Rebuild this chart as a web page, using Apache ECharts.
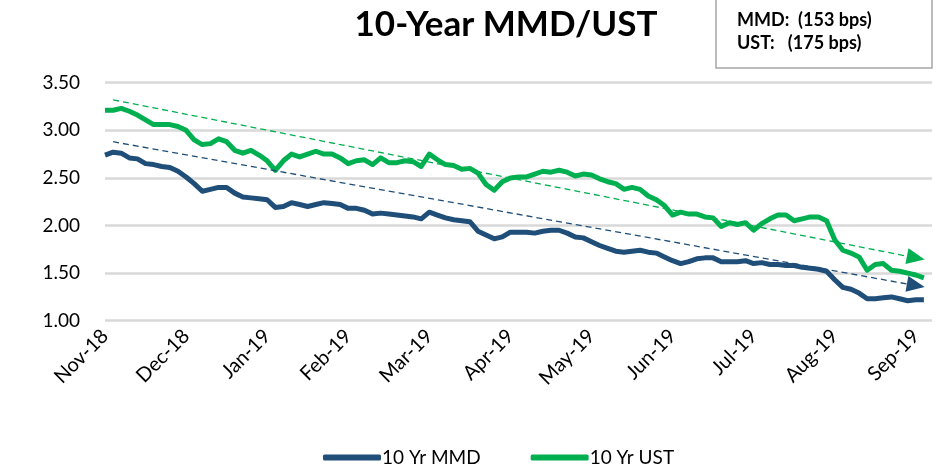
<!DOCTYPE html>
<html>
<head>
<meta charset="utf-8">
<script src="https://cdn.jsdelivr.net/npm/echarts@6/dist/echarts.min.js"></script>
<style>html,body{margin:0;padding:0;background:#fff}#c{width:940px;height:472px}</style>
</head>
<body>
<div id="c"></div>
<script>
// Tick labels on the x axis (one every 10 points)
var monthLabels = ['Nov-18','Dec-18','Jan-19','Feb-19','Mar-19','Apr-19','May-19','Jun-19','Jul-19','Aug-19','Sep-19'];
// y axis ticks
var yTicks = [1.00, 1.50, 2.00, 2.50, 3.00, 3.50];

// 10 Yr MMD (%)
var mmd = [2.74,2.77,2.76,2.71,2.70,2.65,2.64,2.62,2.61,2.57,
  2.51,2.44,2.36,2.38,2.40,2.40,2.34,2.30,2.29,2.28,
  2.27,2.19,2.20,2.24,2.22,2.20,2.22,2.24,2.23,2.22,
  2.18,2.18,2.16,2.12,2.13,2.12,2.11,2.10,2.09,2.07,
  2.14,2.11,2.08,2.06,2.05,2.04,1.94,1.90,1.86,1.88,
  1.93,1.93,1.93,1.92,1.94,1.95,1.95,1.92,1.88,1.87,
  1.83,1.79,1.76,1.73,1.72,1.73,1.74,1.72,1.71,1.67,
  1.63,1.60,1.62,1.65,1.66,1.66,1.62,1.62,1.62,1.63,
  1.60,1.61,1.59,1.59,1.58,1.58,1.56,1.55,1.54,1.52,
  1.43,1.35,1.33,1.29,1.23,1.23,1.24,1.25,1.23,1.21,
  1.22,1.22];
// 10 Yr UST (%)
var ust = [3.21,3.21,3.23,3.20,3.16,3.11,3.06,3.06,3.06,3.04,
  3.00,2.90,2.85,2.86,2.91,2.88,2.79,2.76,2.79,2.74,
  2.68,2.58,2.68,2.75,2.72,2.75,2.78,2.75,2.75,2.71,
  2.65,2.68,2.69,2.64,2.71,2.66,2.66,2.68,2.67,2.62,
  2.75,2.69,2.64,2.63,2.59,2.60,2.55,2.43,2.37,2.46,
  2.50,2.51,2.51,2.54,2.57,2.56,2.58,2.56,2.52,2.54,
  2.53,2.49,2.46,2.44,2.38,2.40,2.38,2.31,2.27,2.21,
  2.11,2.14,2.12,2.12,2.09,2.08,1.99,2.03,2.01,2.03,
  1.95,2.02,2.07,2.11,2.11,2.05,2.07,2.09,2.09,2.05,
  1.85,1.74,1.71,1.67,1.53,1.59,1.60,1.53,1.52,1.50,
  1.48,1.45];
// trend arrows: [start, end] indices and values
var trendIdx = [1, 100];
var trendMmd = [2.88, 1.37];
var trendUst = [3.32, 1.66];

var seriesNames = ['10 Yr MMD', '10 Yr UST'];
var boxLines = ['MMD:  (153 bps)', 'UST:   (175 bps)'];
var titleText = '10-Year MMD/UST';

var nCat = 103;
var categories = [];
for (var i = 0; i < nCat; i++) categories.push('p' + i);

var BLUE = '#1F4E79', GREEN = '#00B050';
var FONT = 'Lato, "Liberation Sans", sans-serif';

function trend(vals, color) {
  return {
    silent: true,
    symbol: ['none', 'triangle'],
    symbolSize: [16, 18],
    label: {show: false},
    lineStyle: {color: color, type: [6, 4], width: 1.3},
    data: [[{coord: [trendIdx[0], vals[0]]}, {coord: [trendIdx[1], vals[1]]}]]
  };
}

var chart = echarts.init(document.getElementById('c'));
chart.setOption({
  animation: false,
  textStyle: {fontFamily: FONT},
  title: {
    text: titleText, left: 501, top: 2, textAlign: 'center',
    textStyle: {fontFamily: FONT, fontSize: 35, fontWeight: 'bold', color: '#000'}
  },
  grid: {left: 105, right: 8, top: 82.7, bottom: 151.3, containLabel: false},
  legend: {
    bottom: 0, left: 318, itemGap: 50, itemWidth: 58, itemHeight: 6,
    icon: 'roundRect',
    textStyle: {fontFamily: FONT, fontSize: 19, color: '#000', padding: [0, 0, 0, -4]},
    data: seriesNames
  },
  xAxis: {
    type: 'category', data: categories, boundaryGap: false,
    axisLine: {show: false}, axisTick: {show: false},
    axisLabel: {
      rotate: 45, margin: 12, fontSize: 20, color: '#000', fontFamily: FONT,
      interval: function (idx) { return idx % 10 === 0 && idx / 10 < monthLabels.length; },
      formatter: function (v, idx) { return monthLabels[idx / 10] || ''; }
    },
    splitLine: {show: false}
  },
  yAxis: {
    type: 'value', min: yTicks[0], max: yTicks[yTicks.length - 1], interval: 0.5,
    axisLine: {show: false}, axisTick: {show: false},
    axisLabel: {fontSize: 19, color: '#000', margin: 25, fontFamily: FONT,
      formatter: function (v) { return v.toFixed(2); }},
    splitLine: {lineStyle: {color: '#d9d9d9', width: 2.5}}
  },
  graphic: [
    {type: 'rect', shape: {x: 716, y: -3, width: 216, height: 71},
     style: {fill: '#fff', stroke: '#a6a6a6', lineWidth: 1.5}},
    {type: 'text', left: 737, top: 11,
     style: {text: boxLines[0], font: 'bold 18px ' + FONT, fill: '#000'}},
    {type: 'text', left: 737, top: 34,
     style: {text: boxLines[1], font: 'bold 18px ' + FONT, fill: '#000'}}
  ],
  series: [
    {name: seriesNames[0], type: 'line', data: mmd, showSymbol: false, symbol: 'none',
     lineStyle: {color: BLUE, width: 5, join: 'round'}, itemStyle: {color: BLUE},
     markLine: trend(trendMmd, BLUE), z: 3},
    {name: seriesNames[1], type: 'line', data: ust, showSymbol: false, symbol: 'none',
     lineStyle: {color: GREEN, width: 5, join: 'round'}, itemStyle: {color: GREEN},
     markLine: trend(trendUst, GREEN), z: 2}
  ]
});
</script>
</body>
</html>
